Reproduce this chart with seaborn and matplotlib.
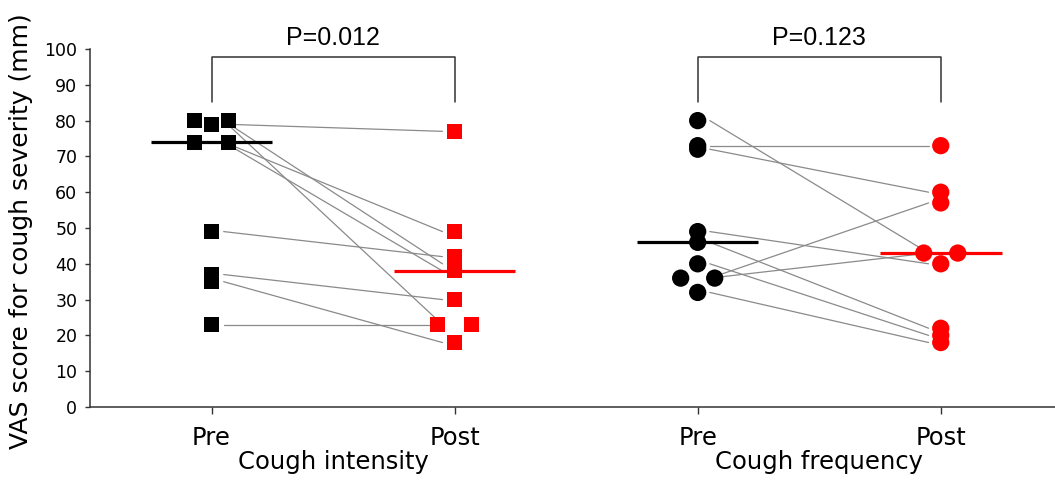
import numpy as np
import pandas as pd
import matplotlib
matplotlib.use('Agg')
import matplotlib.pyplot as plt
import seaborn as sns

# VAS scores, paired pre/post per subject
intensity_pre = [80, 79, 80, 74, 74, 49, 37, 35, 23]
intensity_post = [23, 77, 40, 49, 38, 42, 30, 18, 23]
frequency_pre = [80, 73, 72, 49, 46, 40, 36, 36, 32]
frequency_post = [43, 73, 60, 40, 22, 20, 57, 43, 18]
p_values = ['P=0.012', 'P=0.123']
group_labels = ['Cough intensity', 'Cough frequency']
tick_labels = ['Pre', 'Post', 'Pre', 'Post']

# horizontal slot of each point (to avoid overlapping markers), layout only
slots_int_pre = [-1, 0, 1, -1, 1, 0, 0, 0, 0]
slots_int_post = [1, 0, 0, 0, 0, 0, 0, 0, -1]
slots_freq_pre = [0, 0, 0, 0, 0, 0, -1, 1, 0]
slots_freq_post = [1, 0, 0, 0, 0, 0, 0, -1, 0]
SLOT = 0.07

sns.set_style('ticks')
plt.rcParams['font.family'] = ['DejaVu Sans']
plt.rcParams['text.color'] = 'black'
plt.rcParams['axes.labelcolor'] = 'black'
plt.rcParams['xtick.color'] = 'black'
plt.rcParams['ytick.color'] = 'black'

fig = plt.figure(figsize=(10.55, 4.82), dpi=100)
ax = fig.add_axes([90/1055, 75/482, 965/1055, 358/482])

panels = [
    (0, intensity_pre, intensity_post, slots_int_pre, slots_int_post, 's', 117),
    (2, frequency_pre, frequency_post, slots_freq_pre, slots_freq_post, 'o', 155),
]

for x0, pre, post, sp, sq, marker, size in panels:
    # paired lines
    for a, b in zip(pre, post):
        ax.plot([x0 + 0.05, x0 + 0.95], [a, b], color='#8a8a8a', lw=0.9, zorder=1)
    df = pd.DataFrame({
        'x': [x0 + s * SLOT for s in sp] + [x0 + 1 + s * SLOT for s in sq],
        'vas': pre + post,
        'phase': ['Pre'] * len(pre) + ['Post'] * len(post),
    })
    sns.scatterplot(data=df, x='x', y='vas', hue='phase', marker=marker, s=size,
                    palette={'Pre': 'black', 'Post': '#ff0000'}, edgecolor=None,
                    linewidth=0, legend=False, ax=ax, zorder=3)
    # medians
    ax.hlines(np.median(pre), x0 - 0.25, x0 + 0.25, color='black', lw=2.3, zorder=4)
    ax.hlines(np.median(post), x0 + 0.75, x0 + 1.25, color='#ff0000', lw=2.3, zorder=4)

for i, (p, g) in enumerate(zip(p_values, group_labels)):
    x0 = 2 * i
    ax.plot([x0, x0, x0 + 1, x0 + 1], [85.2, 97.8, 97.8, 85.2], color='#333333',
            lw=1.1, clip_on=False, zorder=2)
    ax.text(x0 + 0.5, 103, p, ha='center', va='center', fontsize=18,
            family=['Liberation Sans'])
    ax.text(x0 + 0.5, -0.154, g, ha='center', va='center', fontsize=17.5,
            transform=ax.get_xaxis_transform())

ax.set_xlim(-0.5, 3.47)
ax.set_ylim(0, 100)
ax.set_yticks(range(0, 101, 10))
ax.set_xticks([0, 1, 2, 3])
ax.set_xticklabels(tick_labels, fontsize=17.5)
ax.tick_params(axis='y', labelsize=12.5, length=3.6, width=1, pad=5.5, color='#333333')
ax.tick_params(axis='x', length=5, width=1, pad=9, color='#333333')
ax.set_xlabel('')
ax.set_ylabel('VAS score for cough severity (mm)', fontsize=18)
ax.yaxis.set_label_coords(-0.059, 0.49)
sns.despine(ax=ax)
for s in ['left', 'bottom']:
    ax.spines[s].set_color('#333333')
    ax.spines[s].set_linewidth(1.1)

fig.savefig('out.png', dpi=100)
